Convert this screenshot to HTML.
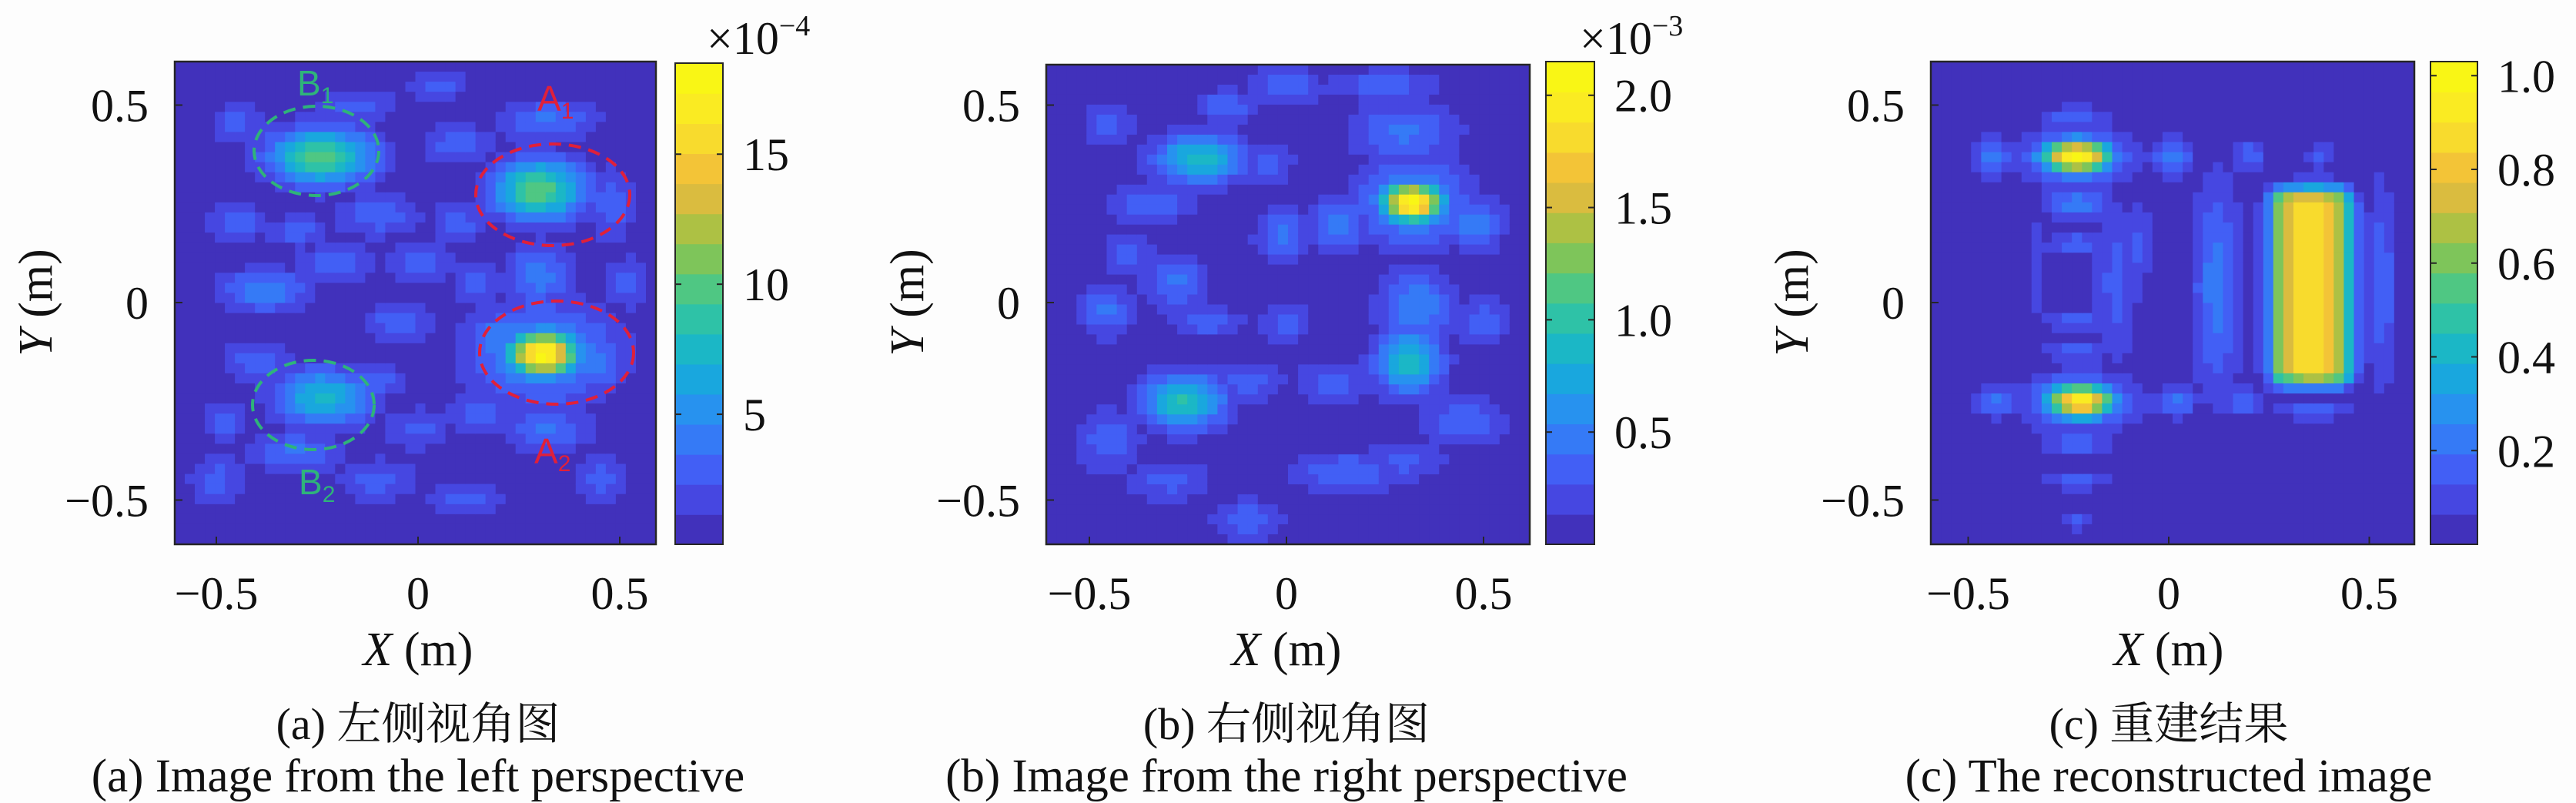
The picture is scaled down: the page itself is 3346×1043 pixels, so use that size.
<!DOCTYPE html>
<html><head><meta charset="utf-8">
<style>
html,body{margin:0;padding:0;background:#fdfdfd;}
svg{display:block;}
text{font-family:"Liberation Serif","Noto Serif CJK SC",serif;fill:#111;}
</style></head>
<body>
<svg id="fig" width="3346" height="1043" viewBox="0 0 3346 1043" xmlns="http://www.w3.org/2000/svg">
<g id="layer-maps"></g>
<g id="layer-annot">
  <ellipse cx="411" cy="196" rx="81" ry="58" fill="none" stroke="#2fb37a" stroke-width="4" stroke-dasharray="16,10"/>
  <ellipse cx="407" cy="526" rx="79" ry="58" fill="none" stroke="#2fb37a" stroke-width="4" stroke-dasharray="16,10"/>
  <ellipse cx="718" cy="253" rx="100" ry="66" fill="none" stroke="#e0203a" stroke-width="4" stroke-dasharray="16,10"/>
  <ellipse cx="723" cy="458" rx="100" ry="67" fill="none" stroke="#e0203a" stroke-width="4" stroke-dasharray="16,10"/>
  <text x="386" y="124" style="font-family:'Liberation Sans',sans-serif;fill:#2fb37a;font-size:46px">B<tspan font-size="30" dy="10">1</tspan></text>
  <text x="388" y="642" style="font-family:'Liberation Sans',sans-serif;fill:#2fb37a;font-size:46px">B<tspan font-size="30" dy="10">2</tspan></text>
  <text x="698" y="144" style="font-family:'Liberation Sans',sans-serif;fill:#e0203a;font-size:46px">A<tspan font-size="30" dy="10">1</tspan></text>
  <text x="694" y="602" style="font-family:'Liberation Sans',sans-serif;fill:#e0203a;font-size:46px">A<tspan font-size="30" dy="10">2</tspan></text>
</g>
<g id="layer-text"></g>
</svg>
<script>
// ---- data ----
const xTicks = [-0.5, 0, 0.5];
const yTicks = [0.5, 0, -0.5];
const tickText = ["\u22120.5", "0", "0.5"];
const yTickText = ["0.5", "0", "\u22120.5"];
// blobs: [x, y, amplitude (fraction of max), sx, sy]
const blobsA = [[-0.24,0.37,0.55,0.09,0.05],[0.30,0.285,0.55,0.08,0.055],[0.31,-0.13,1.0,0.06,0.04],[0.31,-0.13,0.3,0.13,0.09],
 [-0.235,-0.24,0.4,0.085,0.05],[-0.38,0.03,0.24,0.08,0.04],[0.19,-0.09,0.24,0.05,0.04],[0.44,-0.15,0.22,0.05,0.06],
 [0.30,0.07,0.22,0.06,0.06],[0.32,-0.32,0.2,0.08,0.04],[0.32,0.46,0.2,0.09,0.04],[-0.1,0.22,0.17,0.08,0.04],
 [-0.45,0.2,0.17,0.05,0.04],[0.1,0.4,0.17,0.06,0.04],[-0.3,-0.38,0.2,0.08,0.04],[-0.05,-0.05,0.17,0.06,0.04],
 [0.0,0.1,0.17,0.06,0.04],[-0.4,-0.15,0.17,0.06,0.04],[0.15,-0.28,0.17,0.06,0.04],[-0.2,0.1,0.16,0.07,0.04],[0.48,0.25,0.17,0.04,0.07],
 [-0.15,0.5,0.16,0.07,0.03],[0.05,0.55,0.15,0.06,0.03],[-0.45,0.45,0.15,0.05,0.04],[-0.5,-0.45,0.15,0.05,0.05],[-0.1,-0.45,0.16,0.07,0.04],
 [0.12,-0.5,0.15,0.07,0.03],[0.45,-0.45,0.15,0.05,0.05],[-0.1,-0.2,0.15,0.06,0.03],[0.1,0.2,0.16,0.05,0.04],[-0.48,-0.3,0.15,0.04,0.04],
 [0.15,0.05,0.15,0.05,0.04],[-0.3,0.18,0.16,0.06,0.03],[0.52,0.05,0.15,0.04,0.05],[0.0,-0.32,0.15,0.06,0.04]];
const blobsB = [[0.32,0.253,1.0,0.055,0.035],[0.32,0.253,0.3,0.1,0.08],[-0.22,0.365,0.42,0.08,0.045],[0.31,-0.148,0.42,0.06,0.06],[-0.26,-0.25,0.45,0.075,0.05],
 [0.48,0.2,0.24,0.05,0.05],[0.13,0.2,0.24,0.05,0.05],[-0.01,0.17,0.2,0.05,0.05],[-0.28,0.05,0.2,0.06,0.05],[0.33,-0.01,0.24,0.07,0.07],
 [-0.46,-0.02,0.2,0.05,0.05],[0.3,0.43,0.2,0.1,0.06],[-0.35,0.25,0.18,0.08,0.04],[-0.1,-0.2,0.16,0.07,0.04],[0.15,-0.43,0.18,0.1,0.04],
 [-0.45,-0.35,0.17,0.06,0.06],[0.0,0.55,0.16,0.07,0.04],[-0.1,-0.55,0.16,0.07,0.04],[0.45,-0.3,0.17,0.08,0.05],[0.12,-0.2,0.16,0.07,0.04],
 [-0.45,0.45,0.16,0.05,0.04],[-0.15,0.5,0.17,0.06,0.03],[0.25,0.55,0.17,0.1,0.03],[-0.2,-0.05,0.16,0.07,0.03],[0.0,-0.05,0.15,0.05,0.04],
 [-0.4,0.12,0.15,0.05,0.04],[0.5,-0.05,0.16,0.05,0.05],[-0.3,-0.45,0.15,0.08,0.04],[0.3,-0.4,0.15,0.08,0.04],[-0.05,0.35,0.16,0.05,0.04]];
const blobsC = [[-0.23,0.37,1.0,0.06,0.03],[-0.23,0.37,0.3,0.1,0.05],[-0.22,-0.25,0.95,0.06,0.03],[-0.22,-0.25,0.3,0.1,0.05],
 [-0.44,0.37,0.24,0.035,0.035],[0.01,0.37,0.24,0.035,0.035],[0.2,0.37,0.18,0.03,0.03],[0.38,0.37,0.14,0.025,0.025],
 [-0.43,-0.25,0.22,0.035,0.03],[0.02,-0.25,0.22,0.035,0.03],[0.19,-0.25,0.17,0.035,0.03],[0.36,-0.27,0.15,0.08,0.02],
 [-0.23,0.47,0.18,0.06,0.02],[-0.23,0.25,0.22,0.06,0.03],[-0.23,0.15,0.17,0.06,0.02],[-0.23,-0.05,0.16,0.06,0.02],
 [-0.23,-0.12,0.17,0.06,0.02],[-0.23,-0.36,0.19,0.06,0.02],[-0.23,-0.45,0.15,0.06,0.02],[-0.23,-0.55,0.13,0.04,0.02],
 [-0.13,0.05,0.15,0.04,0.15],[0.12,0.04,0.22,0.045,0.2],[0.53,0.04,0.17,0.03,0.2],[-0.33,0.1,0.12,0.02,0.1],[-0.08,0.15,0.14,0.04,0.08]];
// rect targets: [x1, x2, y1, y2, amplitude]
const rectsC = [[0.28,0.43,-0.17,0.25,0.85]];
const cbTicksA = [5,10,15], cbTicksB = [0.5,1.0,1.5,2.0], cbTicksC = [0.2,0.4,0.6,0.8,1.0];
const cbTextB = ["0.5","1.0","1.5","2.0"], cbTextC = ["0.2","0.4","0.6","0.8","1.0"];

const parula=[[62,38,168],[72,82,244],[46,135,247],[18,177,214],[55,200,151],[150,196,70],[240,185,60],[250,230,40],[249,251,14]];
function cmap(t){t=Math.max(0,Math.min(0.9999,t));t=(Math.floor(t*16)+0.5)/16;
 const p=t*(parula.length-1),i=Math.floor(p),f=p-i,a=parula[i],b=parula[Math.min(i+1,parula.length-1)];
 return `rgb(${Math.round(a[0]+(b[0]-a[0])*f)},${Math.round(a[1]+(b[1]-a[1])*f)},${Math.round(a[2]+(b[2]-a[2])*f)})`;}
const NS="http://www.w3.org/2000/svg";
function mk(tag,attrs,parent){const e=document.createElementNS(NS,tag);for(const k in attrs)e.setAttribute(k,attrs[k]);parent.appendChild(e);return e;}
function txt(s,x,y,size,anchor,parent,extra){const e=mk('text',Object.assign({x:x,y:y,'font-size':size,'text-anchor':anchor},extra||{}),parent);e.textContent=s;return e;}
const maps=document.getElementById('layer-maps'), labels=document.getElementById('layer-text');

const panels=[
 {id:'a',L:227,R:852,T:80,B:707,x0:543,xs:524,y0:393,ys:513,blobs:blobsA,rects:[],cb:[877,939,82,707],vmax:18.5,cbt:cbTicksA,cbs:cbTicksA.map(String),exp:'\u22124',expX:918,cap1:'(a) 左侧视角图',cap2:'(a) Image from the left perspective',base:0.05},
 {id:'b',L:1359,R:1987,T:84,B:707,x0:1671,xs:512,y0:393,ys:513,blobs:blobsB,rects:[],cb:[2008,2071,80,707],vmax:2.15,cbt:cbTicksB,cbs:cbTextB,exp:'\u22123',expX:2052,cap1:'(b) 右侧视角图',cap2:'(b) Image from the right perspective',base:0.06},
 {id:'c',L:2508,R:3136,T:80,B:707,x0:2817,xs:521,y0:393,ys:513,blobs:blobsC,rects:rectsC,cb:[3157,3218,80,707],vmax:1.03,cbt:cbTicksC,cbs:cbTextC,exp:null,cap1:'(c) 重建结果',cap2:'(c) The reconstructed image',base:0.04}
];
const N=48;
panels.forEach(p=>{
 const g=mk('g',{},maps);
 
 
 const cw=(p.R-p.L)/N,ch=(p.B-p.T)/N;
 for(let i=0;i<N;i++)for(let j=0;j<N;j++){
  const px=p.L+(i+0.5)*cw,py=p.T+(j+0.5)*ch;
  const X=(px-p.x0)/p.xs,Y=(p.y0-py)/p.ys;
  let v=p.base;
  p.blobs.forEach(b=>{v=Math.max(v,b[2]*Math.exp(-((X-b[0])**2/(2*b[3]*b[3])+(Y-b[1])**2/(2*b[4]*b[4]))));});
  p.rects.forEach(r=>{const dx=Math.max(r[0]-X,0,X-r[1]),dy=Math.max(r[2]-Y,0,Y-r[3]);
    const cx=(r[0]+r[1])/2, w=(r[1]-r[0])/2; const prof=1-0.25*Math.pow(Math.abs(X-cx)/w,2);
    v=Math.max(v,r[4]*Math.max(prof,0.5)*Math.exp(-(dx*dx+dy*dy)/(2*0.03*0.03)));});
  const c=mk('rect',{x:(p.L+i*cw).toFixed(1),y:(p.T+j*ch).toFixed(1),width:(cw+0.8).toFixed(1),height:(ch+0.8).toFixed(1),fill:cmap(v)},g);
  
  
 }
 const box=mk('rect',{x:p.L,y:p.T,width:p.R-p.L,height:p.B-p.T,fill:'none',stroke:'#262626','stroke-width':2.5},g);
 
 
 xTicks.forEach((t,k)=>{const x=p.x0+t*p.xs;
  const tl=mk('line',{x1:x,x2:x,y1:p.B,y2:p.B-10,stroke:'#262626','stroke-width':2},g);
  
  
  const e=txt(tickText[k],x,p.B+84,60,'middle',labels);
  
  });
 yTicks.forEach((t,k)=>{const y=p.y0-t*p.ys;
  const tl=mk('line',{x1:p.L,x2:p.L+10,y1:y,y2:y,stroke:'#262626','stroke-width':2},g);
  
  
  const e=txt(yTickText[k],p.L-34,y+21,60,'end',labels);
  
  });
 const xl=txt('',p.x0,864,62,'middle',labels);
 xl.innerHTML='<tspan font-style="italic">X</tspan> (m)';
 
 
 const yl=txt('',0,0,62,'middle',labels,{transform:`translate(${p.L-160},${p.y0}) rotate(-90)`});
 yl.innerHTML='<tspan font-style="italic">Y</tspan> (m)';
 
 
 const c1=txt(p.cap1,p.x0,960,58,'middle',labels);
 
 
 const c2=txt(p.cap2,p.x0,1028,61,'middle',labels);
 
 
 const [cl,cr,ct,cb]=p.cb; const cg=mk('g',{},maps);
 
 
 const nb=16,bh=(cb-ct)/nb;
 for(let k=0;k<nb;k++){const r=mk('rect',{x:cl,y:(cb-(k+1)*bh).toFixed(1),width:cr-cl,height:(bh+0.8).toFixed(1),fill:cmap((k+0.5)/nb)},cg);
  
  }
 mk('rect',{x:cl,y:ct,width:cr-cl,height:cb-ct,fill:'none',stroke:'#262626','stroke-width':2},cg);
 p.cbt.forEach((t,k)=>{const y=cb-t/p.vmax*(cb-ct);
  mk('line',{x1:cl,x2:cl+8,y1:y,y2:y,stroke:'#262626','stroke-width':2},cg);
  mk('line',{x1:cr,x2:cr-8,y1:y,y2:y,stroke:'#262626','stroke-width':2},cg);
  const e=txt(p.cbs[k],cr+26,y+21,60,'start',labels);
  
  });
 if(p.exp){const e=txt('',p.expX,70,60,'start',labels);
  e.innerHTML='×10<tspan font-size="38" dy="-24">'+p.exp+'</tspan>';
  
  }
});
</script>
</body></html>
